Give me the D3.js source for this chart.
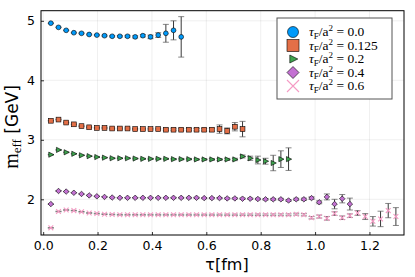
<!DOCTYPE html>
<html>
<head>
<meta charset="utf-8">
<script src="https://cdn.jsdelivr.net/npm/d3@7"></script>
<style>
body { margin: 0; background: #fff; }
svg { display: block; font-family: "DejaVu Sans", sans-serif; }
</style>
</head>
<body>
<svg width="415" height="277"></svg>
<script>
// euclidean time slices (fm)
var tau = [0.0282, 0.0564, 0.0846, 0.1128, 0.141, 0.1692, 0.1974, 0.2256, 0.2538, 0.282,
  0.3102, 0.3384, 0.3666, 0.3948, 0.423, 0.4512, 0.4794, 0.5076, 0.5358, 0.564,
  0.5922, 0.6204, 0.6486, 0.6768, 0.705, 0.7332, 0.7614, 0.7896, 0.8178, 0.846,
  0.8742, 0.9024, 0.9306, 0.9588, 0.987, 1.0152, 1.0434, 1.0716, 1.0998, 1.128,
  1.1562, 1.1844, 1.2126, 1.2408, 1.269, 1.2972];

var m00 = [4.96, 4.89, 4.84, 4.80, 4.79, 4.77, 4.76, 4.75, 4.74, 4.74, 4.74, 4.73, 4.75, 4.73, 4.76, 4.79, 4.84, 4.73];
var e00 = [0.005, 0.005, 0.006, 0.007, 0.008, 0.009, 0.01, 0.01, 0.012, 0.013, 0.015, 0.018, 0.02, 0.03, 0.04, 0.15, 0.16, 0.34];

var m0125 = [3.32, 3.34, 3.29, 3.26, 3.23, 3.21, 3.20, 3.20, 3.19, 3.19, 3.19, 3.18, 3.18, 3.18, 3.18, 3.17, 3.17, 3.17, 3.17, 3.17, 3.17, 3.17, 3.18, 3.15, 3.22, 3.18];
var e0125 = [0.005, 0.005, 0.005, 0.006, 0.006, 0.007, 0.007, 0.008, 0.008, 0.009, 0.01, 0.01, 0.011, 0.012, 0.013, 0.014, 0.015, 0.016, 0.018, 0.02, 0.022, 0.025, 0.07, 0.05, 0.07, 0.13];

var m02 = [2.75, 2.83, 2.79, 2.765, 2.74, 2.725, 2.71, 2.70, 2.69, 2.69, 2.69, 2.685, 2.68, 2.68, 2.68, 2.68, 2.675, 2.675, 2.675, 2.67, 2.67, 2.67, 2.67, 2.67, 2.67, 2.72, 2.69, 2.66, 2.64, 2.61, 2.675, 2.675];
var e02 = [0.004, 0.004, 0.005, 0.005, 0.005, 0.006, 0.006, 0.006, 0.007, 0.007, 0.008, 0.008, 0.009, 0.009, 0.01, 0.01, 0.011, 0.012, 0.012, 0.013, 0.014, 0.015, 0.016, 0.018, 0.02, 0.025, 0.035, 0.065, 0.05, 0.13, 0.14, 0.19];

var m04 = [1.92, 2.14, 2.13, 2.11, 2.09, 2.065, 2.05, 2.04, 2.03, 2.025, 2.025, 2.025, 2.025, 2.025, 2.025, 2.025, 2.025, 2.025, 2.025, 2.025, 2.02, 2.02, 2.02, 2.015, 2.015, 2.01, 2.01, 2.005, 2.00, 2.00, 2.00, 1.98, 2.00, 2.00, 2.02, 1.95, 2.04, 1.92, 2.01, 1.92];
var e04 = [0.004, 0.004, 0.004, 0.004, 0.005, 0.005, 0.005, 0.005, 0.005, 0.006, 0.006, 0.006, 0.006, 0.007, 0.007, 0.007, 0.008, 0.008, 0.008, 0.009, 0.009, 0.01, 0.01, 0.011, 0.011, 0.012, 0.012, 0.013, 0.014, 0.015, 0.016, 0.017, 0.018, 0.02, 0.022, 0.025, 0.05, 0.08, 0.07, 0.1];

var m06 = [1.52, 1.795, 1.82, 1.81, 1.79, 1.77, 1.76, 1.75, 1.745, 1.74, 1.74, 1.74, 1.74, 1.74, 1.74, 1.74, 1.74, 1.74, 1.74, 1.74, 1.74, 1.74, 1.74, 1.74, 1.74, 1.74, 1.74, 1.74, 1.74, 1.74, 1.74, 1.74, 1.75, 1.74, 1.69, 1.71, 1.68, 1.76, 1.69, 1.725, 1.77, 1.71, 1.63, 1.67, 1.81, 1.71];
var e06 = [0.005, 0.005, 0.005, 0.005, 0.005, 0.006, 0.006, 0.006, 0.006, 0.007, 0.007, 0.007, 0.007, 0.008, 0.008, 0.008, 0.008, 0.009, 0.009, 0.009, 0.01, 0.01, 0.01, 0.011, 0.011, 0.012, 0.012, 0.013, 0.013, 0.014, 0.015, 0.015, 0.016, 0.018, 0.02, 0.025, 0.03, 0.03, 0.03, 0.03, 0.04, 0.05, 0.08, 0.13, 0.12, 0.15];

var flowTimes = ["0.0", "0.125", "0.2", "0.4", "0.6"];
var xTicks = [0, 0.2, 0.4, 0.6, 0.8, 1.0, 1.2];
var yTicks = [2, 3, 4, 5];

var series = [
  {m: m00, e: e00, shape: "circle", color: "#009afa"},
  {m: m0125, e: e0125, shape: "square", color: "#e36f47"},
  {m: m02, e: e02, shape: "triangle", color: "#3ea44e"},
  {m: m04, e: e04, shape: "diamond", color: "#c371d2"},
  {m: m06, e: e06, shape: "cross", color: "#f59ac4"}
];

var svg = d3.select("svg");
var x = d3.scaleLinear().domain([-0.008, 1.327]).range([41, 404]);
var y = d3.scaleLinear().domain([1.40, 5.17]).range([235, 10.7]);

// grid
svg.append("g").selectAll("line").data(xTicks).enter().append("line")
  .attr("x1", d => x(d)).attr("x2", d => x(d))
  .attr("y1", y.range()[0]).attr("y2", y.range()[1])
  .attr("stroke", "#000").attr("stroke-opacity", 0.09).attr("stroke-width", 0.7);
svg.append("g").selectAll("line").data(yTicks).enter().append("line")
  .attr("y1", d => y(d)).attr("y2", d => y(d))
  .attr("x1", x.range()[0]).attr("x2", x.range()[1])
  .attr("stroke", "#000").attr("stroke-opacity", 0.09).attr("stroke-width", 0.7);

// axes
var xAxis = svg.append("g").attr("transform", "translate(0,235)")
  .call(d3.axisBottom(x).tickValues(xTicks).tickFormat(d3.format(".1f")).tickSizeInner(-3).tickSizeOuter(0).tickPadding(6));
var yAxis = svg.append("g").attr("transform", "translate(41,0)")
  .call(d3.axisLeft(y).tickValues(yTicks).tickFormat(d3.format("d")).tickSizeInner(-3).tickSizeOuter(0).tickPadding(6));
[xAxis, yAxis].forEach(function (a) {
  a.select(".domain").remove();
  a.selectAll("text").attr("font-size", 12.5).attr("fill", "#000").attr("font-family", "DejaVu Sans, sans-serif");
  a.selectAll(".tick line").attr("stroke", "#000").attr("stroke-width", 0.8);
});

// frame
svg.append("rect").attr("x", 41).attr("y", 10.7).attr("width", 363).attr("height", 224.3)
  .attr("fill", "none").attr("stroke", "#000").attr("stroke-width", 1);

function drawMarker(g, shape, color, s) {
  if (shape === "circle") {
    g.append("circle").attr("r", s).attr("fill", color).attr("stroke", "#000").attr("stroke-width", 0.6);
  } else if (shape === "square") {
    g.append("rect").attr("x", -s).attr("y", -s).attr("width", 2 * s).attr("height", 2 * s)
      .attr("fill", color).attr("stroke", "#000").attr("stroke-width", 0.6);
  } else if (shape === "triangle") {
    g.append("path").attr("d", "M" + (1.2 * s) + ",0L" + (-0.8 * s) + "," + (-s) + "L" + (-0.8 * s) + "," + s + "Z")
      .attr("fill", color).attr("stroke", "#000").attr("stroke-width", 0.6);
  } else if (shape === "diamond") {
    g.append("path").attr("d", "M0," + (-1.2 * s) + "L" + (1.2 * s) + ",0L0," + (1.2 * s) + "L" + (-1.2 * s) + ",0Z")
      .attr("fill", color).attr("stroke", "#000").attr("stroke-width", 0.6);
  } else {
    g.append("path").attr("d", "M" + (-s) + "," + (-s) + "L" + s + "," + s + "M" + (-s) + "," + s + "L" + s + "," + (-s))
      .attr("stroke", color).attr("stroke-width", 1.1).attr("fill", "none");
  }
}

var plot = svg.append("g");
series.forEach(function (sr) {
  var pts = sr.m.map(function (v, i) { return {t: tau[i], m: v, e: sr.e[i]}; });
  var eb = plot.append("g");
  pts.forEach(function (p) {
    var lo = y(p.m - p.e), hi = y(p.m + p.e), cx = x(p.t);
    eb.append("line").attr("x1", cx).attr("x2", cx).attr("y1", lo).attr("y2", hi)
      .attr("stroke", "#222").attr("stroke-width", 0.9);
    [lo, hi].forEach(function (yy) {
      eb.append("line").attr("x1", cx - 3).attr("x2", cx + 3).attr("y1", yy).attr("y2", yy)
        .attr("stroke", "#555").attr("stroke-opacity", 0.7).attr("stroke-width", 1);
    });
  });
  var mk = plot.append("g");
  pts.forEach(function (p) {
    var g = mk.append("g").attr("transform", "translate(" + x(p.t) + "," + y(p.m) + ")");
    drawMarker(g, sr.shape, sr.color, sr.shape === "triangle" ? 2.6 : (sr.shape === "diamond" ? 2.3 : 2.4));
  });
});

// legend
var lg = svg.append("g");
lg.append("rect").attr("x", 277).attr("y", 18).attr("width", 115).attr("height", 81)
  .attr("fill", "#fff").attr("stroke", "#555").attr("stroke-width", 1);
var rowY = [32, 45.5, 59, 72.5, 86];
var legSize = [5.5, 6, 4, 5, 6];
series.forEach(function (sr, i) {
  var g = lg.append("g").attr("transform", "translate(293," + rowY[i] + ")");
  drawMarker(g, sr.shape, sr.color, legSize[i]);
  var t = lg.append("text").attr("x", 309).attr("y", rowY[i] + 4)
    .attr("font-family", "Liberation Serif, DejaVu Serif, serif").attr("font-size", 13.5);
  t.append("tspan").attr("font-style", "italic").text("τ");
  t.append("tspan").attr("font-size", 9).attr("dy", 2.5).text("F");
  t.append("tspan").attr("dy", -2.5).text("/a");
  t.append("tspan").attr("font-size", 9).attr("dy", -5).text("2");
  t.append("tspan").attr("dy", 5).text(" = " + flowTimes[i]);
});

// axis labels
svg.append("text").attr("x", 227).attr("y", 270).attr("text-anchor", "middle")
  .attr("font-size", 16).text("τ[fm]");
var yl = svg.append("text").attr("transform", "translate(18,127) rotate(-90)").attr("text-anchor", "middle");
yl.append("tspan").attr("font-family", "Liberation Serif, DejaVu Serif, serif").attr("font-size", 20).text("m");
yl.append("tspan").attr("font-family", "Liberation Serif, DejaVu Serif, serif").attr("font-size", 13).attr("dy", 3).text("eff");
yl.append("tspan").attr("font-size", 17).attr("dy", -3).text(" [GeV]");
</script>
</body>
</html>
